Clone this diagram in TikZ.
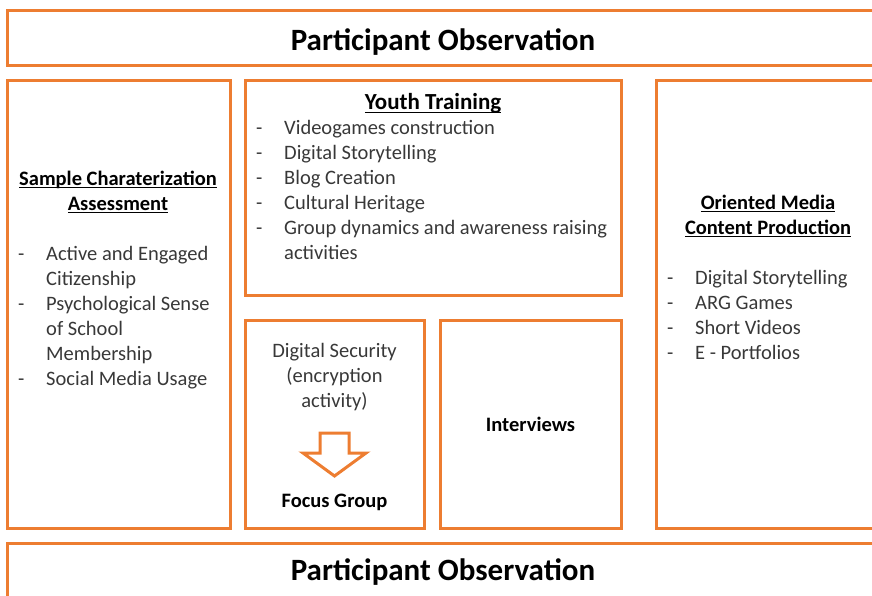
\documentclass[tikz,border=0pt]{standalone}
\usepackage{fontspec}
\setmainfont{Carlito}
\usepackage{tikz}

\definecolor{boxorange}{HTML}{ED7D31}
\definecolor{bodygray}{HTML}{383838}
\newcommand{\bodysize}{\fontsize{20.5}{25}\selectfont}
\newlength{\hdwd}
\newcommand{\headline}[1]{\settowidth{\hdwd}{#1}#1\hspace{-\hdwd}\rule[-3pt]{\hdwd}{1.3pt}}
\newcommand{\itm}{\strut\makebox[28pt][l]{-}}
\newcommand{\cont}{\strut\hspace*{28pt}}

\tikzset{
  panel/.style={draw=boxorange, line width=3pt, inner sep=0pt},
  body/.style={inner sep=0pt, text=bodygray, font=\bodysize},
  head/.style={inner sep=0pt, text=black, font=\bodysize\bfseries},
  banner/.style={inner sep=0pt, text=black, font=\fontsize{31}{37}\selectfont\bfseries},
}

\begin{document}
\begin{tikzpicture}[x=1pt,y=-1pt]
    \useasboundingbox (0,0) rectangle (872,595);
        % frames
    \node[panel, minimum width=873, minimum height=55] (topobs) at (443.5,37.5) {};
    \node[panel, minimum width=223, minimum height=448] (sample) at (118.5,304) {};
    \node[panel, minimum width=376, minimum height=215] (youth) at (433,187.5) {};
    \node[panel, minimum width=179, minimum height=208] (security) at (334.5,424) {};
    \node[panel, minimum width=181, minimum height=208] (interviews) at (530.5,424) {};
    \node[panel, minimum width=224, minimum height=448] (media) at (768,304) {};
    \node[panel, minimum width=873, minimum height=62] (botobs) at (443.5,574) {};

        % banners
    \node[banner, anchor=base] (toptext) at (443,50) {Participant Observation};
    \node[banner, anchor=base] (bottext) at (443,580) {Participant Observation};

        % left column
    \node[head, anchor=north, align=center] (samplehead) at (118,167.5)
        {\strut\headline{Sample Charaterization}\\ \strut\headline{Assessment}};
    \node[body, anchor=north west, align=left] (samplelist) at (18,242.5)
        {\itm Active and Engaged\\ \cont Citizenship\\
         \itm Psychological Sense\\ \cont of School\\ \cont Membership\\
         \itm Social Media Usage};

        % youth training
    \node[head, anchor=north, font=\fontsize{23}{28}\selectfont\bfseries] (youthhead) at (433,90)
        {\strut\headline{Youth Training}};
    \node[body, anchor=north west, align=left] (youthlist) at (256,116.5)
        {\itm Videogames construction\\
         \itm Digital Storytelling\\
         \itm Blog Creation\\
         \itm Cultural Heritage\\
         \itm Group dynamics and awareness raising\\ \cont activities};

        % security and focus group
    \node[body, anchor=north, align=center] (sectext) at (334.5,339.5)
        {\strut Digital Security\\ \strut(encryption\\ \strut activity)};
    \draw[draw=boxorange, line width=3pt, line join=miter]
        (320,433) -- (349,433) -- (349,453) -- (366,453) -- (334.5,476)
        -- (303,453) -- (320,453) -- cycle;
    \node[head, anchor=base] (focus) at (334.5,507) {Focus Group};

        % interviews
    \node[head, anchor=base] (intertext) at (530.5,431) {Interviews};

        % media production
    \node[head, anchor=north, align=center] (mediahead) at (768,191.5)
        {\strut\headline{Oriented Media}\\ \strut\headline{Content Production}};
    \node[body, anchor=north west, align=left] (medialist) at (667,266.5)
        {\itm Digital Storytelling\\
         \itm ARG Games\\
         \itm Short Videos\\
         \itm E - Portfolios};
\end{tikzpicture}
\end{document}
